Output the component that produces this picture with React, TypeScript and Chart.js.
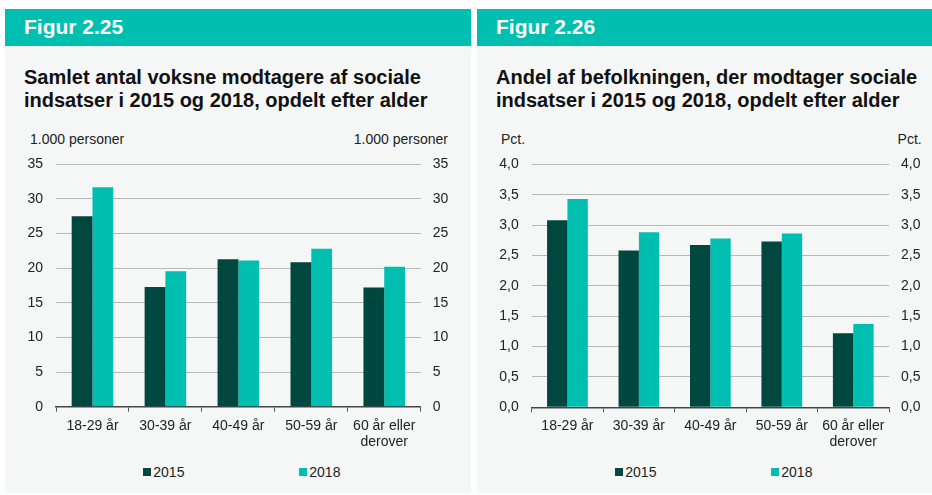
import React, { useEffect, useRef } from 'react';
import { Chart, registerables } from 'chart.js';

Chart.register(...registerables);

// ---------- data ----------
const categories: string[][] = [['18-29 år'], ['30-39 år'], ['40-49 år'], ['50-59 år'], ['60 år eller', 'derover']];
const years = ['2015', '2018'];
const personer2015 = [27.5, 17.3, 21.3, 20.85, 17.2];
const personer2018 = [31.7, 19.55, 21.1, 22.8, 20.2];
const pct2015 = [3.08, 2.58, 2.67, 2.73, 1.22];
const pct2018 = [3.43, 2.88, 2.78, 2.86, 1.37];
const personerTickLabels = ['0', '5', '10', '15', '20', '25', '30', '35'];
const pctTickLabels = ['0,0', '0,5', '1,0', '1,5', '2,0', '2,5', '3,0', '3,5', '4,0'];

const DARK = '#00473f';
const TEAL = '#00bfb0';
const PANEL_BG = '#f5f7f7';
const FONT = '"Liberation Sans", Arial, Helvetica, sans-serif';

type Area = { left: number; right: number; top: number; bottom: number };

function BarChart(props: {
  x: number; y: number; w: number; h: number; area: Area;
  a: number[]; b: number[]; max: number; step: number; tickLabels: string[];
}) {
  const ref = useRef<HTMLCanvasElement | null>(null);
  useEffect(() => {
    if (!ref.current) return;
    const { area, w, h, max, step, tickLabels } = props;
    const tickCb = (v: any) => {
      const i = Math.round(Number(v) / step);
      return tickLabels[i] ?? '';
    };
    const tickFont = { family: FONT, size: 14 };
    const chart = new Chart(ref.current, {
      type: 'bar',
      data: {
        labels: categories,
        datasets: [
          { label: years[0], data: props.a, backgroundColor: DARK, borderWidth: 0, yAxisID: 'y' },
          { label: years[1], data: props.b, backgroundColor: TEAL, borderWidth: 0, yAxisID: 'y' },
        ],
      },
      options: {
        responsive: false,
        animation: false,
        maintainAspectRatio: false,
        layout: { padding: { top: area.top, left: 0, right: 0, bottom: 0 } },
        datasets: { bar: { categoryPercentage: 0.57, barPercentage: 1.0 } } as any,
        plugins: { legend: { display: false }, tooltip: { enabled: false } },
        scales: {
          x: {
            offset: true,
            grid: { display: true, offset: true, drawOnChartArea: false, drawTicks: true, tickLength: 5, color: '#555', lineWidth: 1 },
            border: { display: true, color: '#444', width: 1.5 },
            ticks: { color: '#222', font: { ...tickFont, lineHeight: 1.15 }, padding: 6, maxRotation: 0, autoSkip: false },
            afterFit: (s: any) => { s.height = h - area.bottom; },
          },
          y: {
            position: 'left',
            min: 0, max,
            grid: { color: '#b8b8b8', lineWidth: 1, drawTicks: true, tickLength: 13, tickColor: 'rgba(0,0,0,0)' },
            border: { display: false },
            ticks: { stepSize: step, color: '#222', font: tickFont, padding: 0, callback: tickCb },
            afterFit: (s: any) => { s.width = area.left; },
          },
          y2: {
            position: 'right',
            min: 0, max,
            grid: { drawOnChartArea: false, drawTicks: true, tickLength: 12, tickColor: 'rgba(0,0,0,0)' },
            border: { display: false },
            ticks: { stepSize: step, color: '#222', font: tickFont, padding: 0, callback: tickCb },
            afterFit: (s: any) => { s.width = w - area.right; },
          },
        },
      } as any,
    });
    return () => chart.destroy();
  }, []);
  return (
    <canvas
      ref={ref}
      width={props.w}
      height={props.h}
      style={{ position: 'absolute', left: props.x, top: props.y, width: props.w, height: props.h }}
    />
  );
}

function Panel(props: {
  x: number; w: number; fig: string; title: string[]; unit: string;
  unitLeft: number; unitRight: number; plotCenter: number; children: React.ReactNode;
}) {
  const { x, w } = props;
  return (
    <>
      <div style={{ position: 'absolute', left: x, top: 9, width: w, height: 37, background: TEAL }} />
      <div style={{ position: 'absolute', left: x, top: 46, width: w, height: 447, background: PANEL_BG }} />
      <div style={{ position: 'absolute', left: x + 19, top: 14, height: 26, lineHeight: '26px', color: '#fff', fontWeight: 700, fontSize: 21, whiteSpace: 'nowrap' }}>
        {props.fig}
      </div>
      <div style={{ position: 'absolute', left: x + 19, top: 65.5, lineHeight: '23.5px', color: '#111', fontWeight: 700, fontSize: 20, whiteSpace: 'nowrap' }}>
        {props.title.map((t, i) => <div key={i}>{t}</div>)}
      </div>
      <div style={{ position: 'absolute', left: props.unitLeft, top: 130, lineHeight: '18px', fontSize: 14, color: '#222', whiteSpace: 'nowrap' }}>
        {props.unit}
      </div>
      <div style={{ position: 'absolute', right: 932 - props.unitRight, top: 130, lineHeight: '18px', fontSize: 14, color: '#222', whiteSpace: 'nowrap', textAlign: 'right' }}>
        {props.unit}
      </div>
      {props.children}
      {years.map((yr, i) => {
        const bx = props.plotCenter + (i === 0 ? -95 : 61);
        return (
          <React.Fragment key={yr}>
            <div style={{ position: 'absolute', left: bx, top: 467.5, width: 8, height: 8, background: i === 0 ? DARK : TEAL }} />
            <div style={{ position: 'absolute', left: bx + 10, top: 462.5, lineHeight: '18px', fontSize: 14, color: '#222' }}>{yr}</div>
          </React.Fragment>
        );
      })}
    </>
  );
}

export default function App() {
  return (
    <div style={{ position: 'absolute', left: 0, top: 0, width: 932, height: 495, background: '#fff', fontFamily: FONT, overflow: 'hidden' }}>
      <Panel x={5} w={466} fig="Figur 2.25" title={['Samlet antal voksne modtagere af sociale', 'indsatser i 2015 og 2018, opdelt efter alder']}
        unit="1.000 personer" unitLeft={30} unitRight={448} plotCenter={238.3}>
        <BarChart x={5} y={150} w={466} h={300}
          area={{ left: 51, right: 415.7, top: 14.3, bottom: 256.7 }}
          a={personer2015} b={personer2018} max={35} step={5} tickLabels={personerTickLabels} />
      </Panel>
      <Panel x={477} w={455} fig="Figur 2.26" title={['Andel af befolkningen, der modtager sociale', 'indsatser i 2015 og 2018, opdelt efter alder']}
        unit="Pct." unitLeft={501} unitRight={921.7} plotCenter={710.3}>
        <BarChart x={477} y={150} w={455} h={300}
          area={{ left: 54.7, right: 412, top: 14.3, bottom: 257.3 }}
          a={pct2015} b={pct2018} max={4} step={0.5} tickLabels={pctTickLabels} />
      </Panel>
    </div>
  );
}
